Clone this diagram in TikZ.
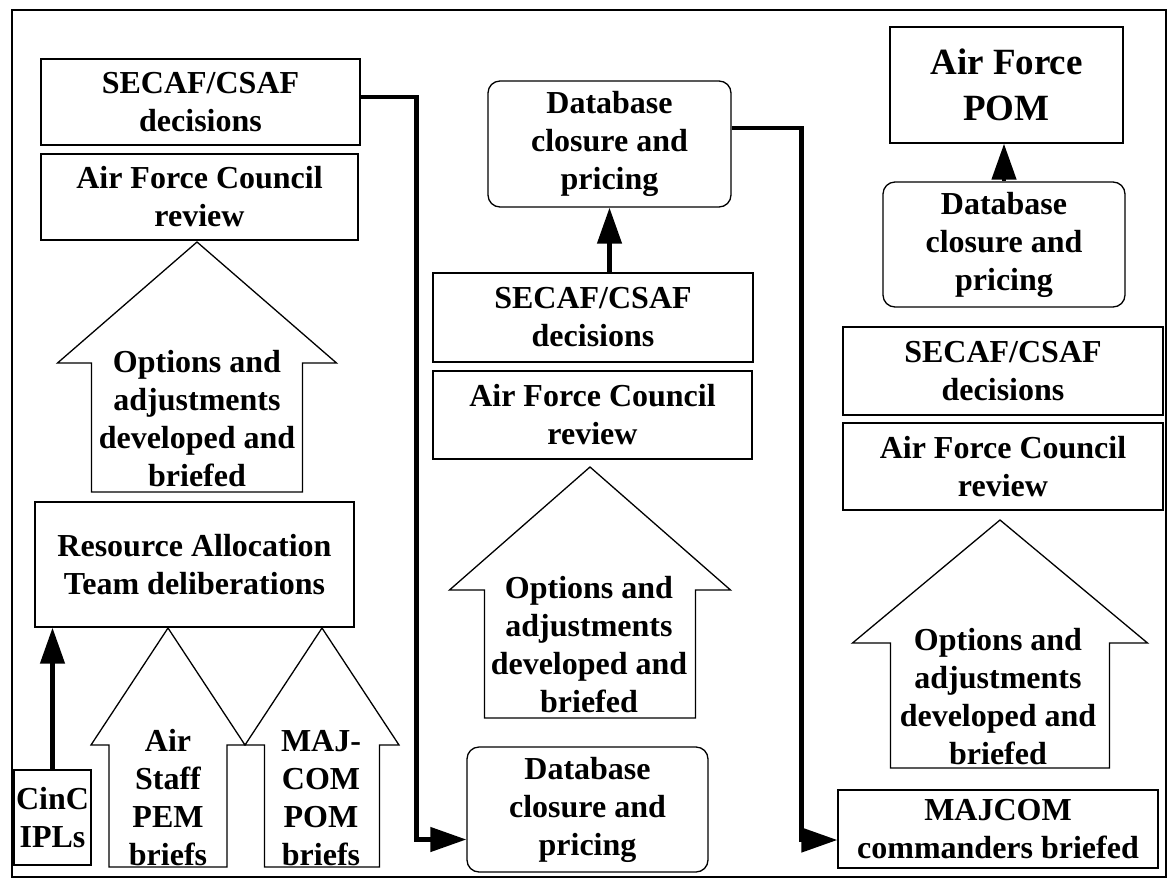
\documentclass[tikz,border=0pt]{standalone}
\usepackage{fontspec}
\setmainfont{Liberation Serif}
\usepackage{tikz}
\usetikzlibrary{arrows.meta}

\tikzset{
  stepbox/.style={draw=black, line width=1.3pt, inner sep=0pt, align=center,
    font=\fontsize{32}{38}\selectfont\bfseries},
  dbbox/.style={stepbox, rounded corners=12pt},
  arrtext/.style={inner sep=0pt, align=center, font=\fontsize{32}{38}\selectfont\bfseries},
  blockline/.style={draw=black, line width=1.3pt, line join=miter},
  flow/.style={line width=4.5pt, -{Triangle[length=36pt,width=24pt]}},
}

% block arrow pointing up: cx, tip y, shoulder y, bottom y, shaft half, head half
\newcommand{\blockup}[6]{%
  \draw[blockline] (#1,#2) -- (#1+#6,#3) -- (#1+#5,#3) -- (#1+#5,#4)
    -- (#1-#5,#4) -- (#1-#5,#3) -- (#1-#6,#3) -- cycle;}

\begin{document}
\begin{tikzpicture}[x=1pt, y=-1pt]
    \useasboundingbox (0,0) rectangle (1170,884);
    \draw[line width=2pt] (12,10) rectangle (1166,877);

    % left column
    \node[stepbox, minimum width=319pt, minimum height=86pt] (sec1) at (200.5,102) {SECAF/CSAF\\decisions};
    \node[stepbox, minimum width=317pt, minimum height=86pt] (afc1) at (199.5,197) {Air Force Council\\review};
    \blockup{197}{242}{363}{492}{105.5}{139.5}
    \node[arrtext] (opt1) at (197,419) {Options and\\adjustments\\developed and\\briefed};
    \node[stepbox, minimum width=319pt, minimum height=125pt] (rat) at (194.5,564.5) {Resource Allocation\\Team deliberations};
    \node[stepbox, minimum width=77pt, minimum height=95pt] (cinc) at (52.5,817.5) {CinC\\IPLs};
    \blockup{168}{628}{745}{867}{59}{77}
    \node[arrtext] (staff) at (168,798) {Air\\Staff\\PEM\\briefs};
    \blockup{322}{628}{745}{867}{57.5}{77}
    \node[arrtext] (majb) at (321,798) {MAJ-\\COM\\POM\\briefs};

    % middle column
    \node[dbbox, minimum width=243pt, minimum height=126pt] (db1) at (609.5,144) {Database\\closure and\\pricing};
    \node[stepbox, minimum width=320pt, minimum height=89pt] (sec2) at (593,317.5) {SECAF/CSAF\\decisions};
    \node[stepbox, minimum width=319pt, minimum height=88pt] (afc2) at (592.5,415) {Air Force Council\\review};
    \blockup{590}{467}{590}{718}{105.5}{140.5}
    \node[arrtext] (opt2) at (589,645) {Options and\\adjustments\\developed and\\briefed};
    \node[dbbox, minimum width=241pt, minimum height=125pt] (db2) at (587.5,809.5) {Database\\closure and\\pricing};

    % right column
    \node[stepbox, minimum width=233pt, minimum height=116pt, font=\fontsize{37}{46}\selectfont\bfseries] (pom) at (1006.5,85) {Air Force\\POM};
    \node[dbbox, minimum width=242pt, minimum height=125pt] (db3) at (1004,244.5) {Database\\closure and\\pricing};
    \node[stepbox, minimum width=320pt, minimum height=88pt] (sec3) at (1003,371) {SECAF/CSAF\\decisions};
    \node[stepbox, minimum width=320pt, minimum height=87pt] (afc3) at (1003,466.5) {Air Force Council\\review};
    \blockup{1000}{520}{643}{768}{109.5}{147.5}
    \node[arrtext] (opt3) at (998,697) {Options and\\adjustments\\developed and\\briefed};
    \node[stepbox, minimum width=320pt, minimum height=78pt] (majcom) at (998,829) {MAJCOM\\commanders briefed};

    % connectors
    \draw[flow] (cinc.north) -- (cinc.north |- rat.south);
    \draw[flow] (db1.south |- sec2.north) -- (db1.south);
    \draw[flow] (db3.north) -- (db3.north |- pom.south);
    \draw[flow] ([yshift=5pt]sec1.east) -- ++(56,0) |- ([yshift=-30pt]db2.west);
    \draw[flow] ([yshift=16pt]db1.east) -- ++(70,0) |- ([yshift=-11pt]majcom.west);
\end{tikzpicture}
\end{document}
